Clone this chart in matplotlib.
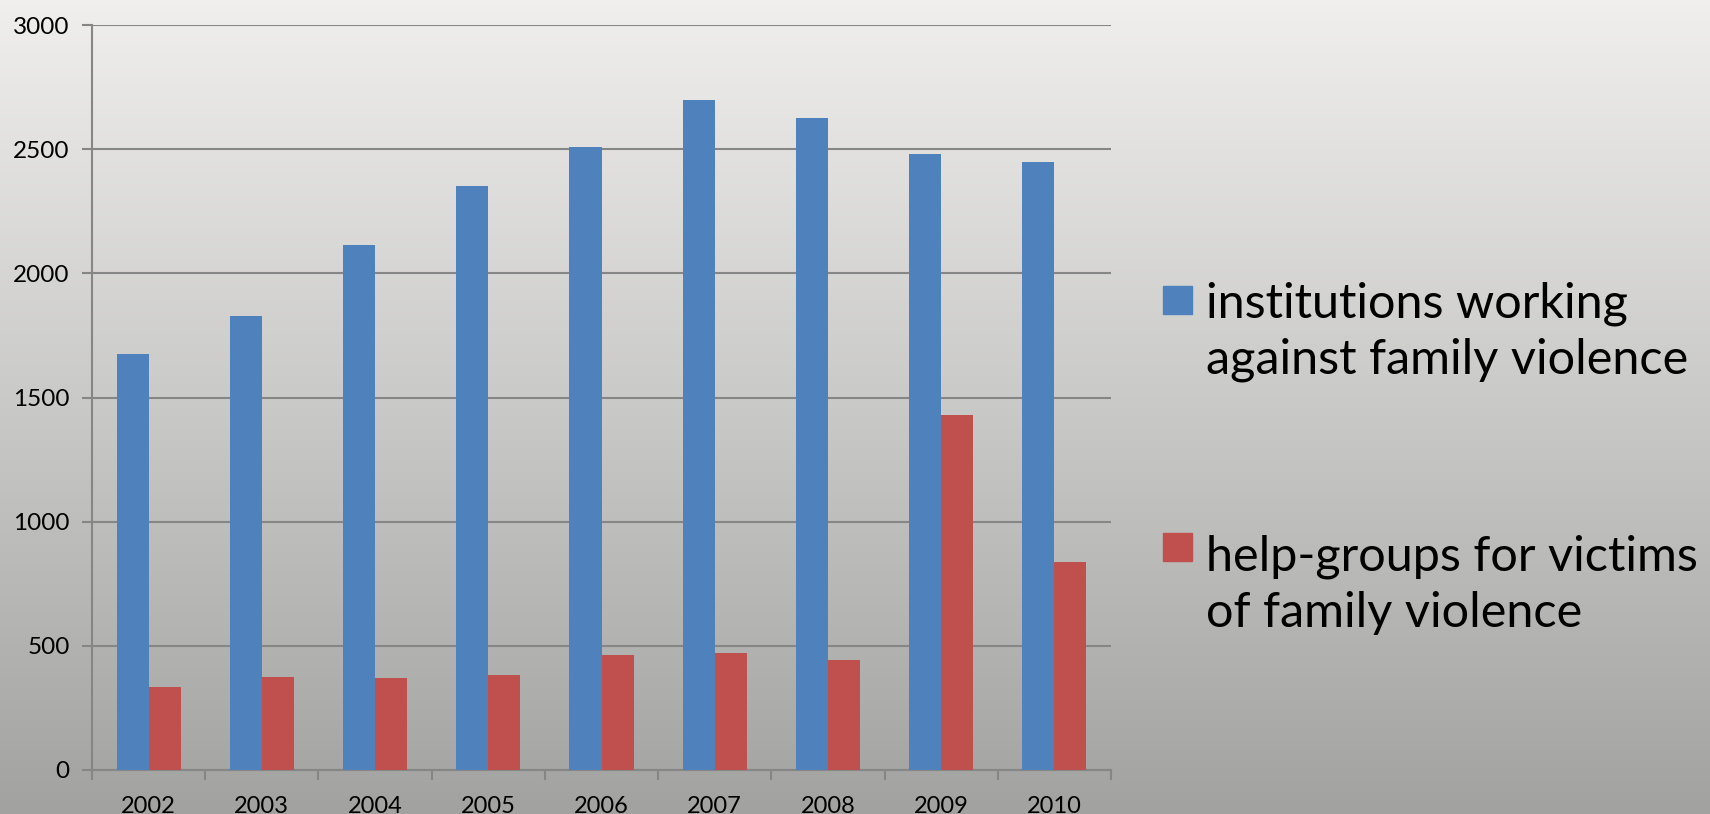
import numpy as np
import matplotlib
matplotlib.use("Agg")
from matplotlib import pyplot as plt
from matplotlib.patches import Rectangle

years = ["2002", "2003", "2004", "2005", "2006", "2007", "2008", "2009", "2010"]
institutions = [1675, 1830, 2115, 2350, 2510, 2700, 2625, 2480, 2450]
help_groups = [334, 374, 370, 383, 462, 471, 444, 1430, 836]
legend_labels = ["institutions working\nagainst family violence",
                 "help-groups for victims\nof family violence"]

blue = "#4f81bd"
red = "#c0504d"
grid_col = "#868686"

plt.rcParams["font.family"] = ["Lato", "DejaVu Sans"]

fig = plt.figure(figsize=(17.1, 8.14), dpi=100)

# gradient background
bg = fig.add_axes([0, 0, 1, 1], zorder=-10)
grad = np.linspace(0, 1, 256).reshape(-1, 1)
top = np.array([240, 239, 238]) / 255
bot = np.array([162, 163, 161]) / 255
img = top[None, None, :] * (1 - grad[:, :, None]) + bot[None, None, :] * grad[:, :, None]
bg.imshow(img, aspect="auto", extent=[0, 1, 0, 1])
bg.axis("off")

ax = fig.add_axes([92 / 1710, 1 - 770 / 814, (1111 - 92) / 1710, (770 - 25) / 814])
ax.patch.set_alpha(0)

x = np.arange(len(years))
w = 0.283
ax.bar(x - w / 2, institutions, w, color=blue, zorder=3)
ax.bar(x + w / 2, help_groups, w, color=red, zorder=3)

ax.set_xlim(-0.5, len(years) - 0.5)
ax.set_ylim(0, 3000)
ax.set_yticks(range(0, 3001, 500))
ax.yaxis.grid(True, color=grid_col, linewidth=1.5, zorder=0)
ax.set_xticks(x)
ax.set_xticklabels(years)
ax.set_xticks(np.arange(-0.5, len(years)), minor=True)
ax.tick_params(axis="x", which="major", length=0, pad=19, labelsize=17)
ax.tick_params(axis="x", which="minor", length=7, width=1.5, color=grid_col)
ax.tick_params(axis="y", length=7, width=1.5, color=grid_col, pad=9, labelsize=17.5)

for s in ["top", "right"]:
    ax.spines[s].set_visible(False)
for s in ["left", "bottom"]:
    ax.spines[s].set_color(grid_col)
    ax.spines[s].set_linewidth(1.5)

# legend drawn on the figure
for i, (lab, col) in enumerate(zip(legend_labels, [blue, red])):
    sq_top = 286 + i * 247
    fig.add_artist(Rectangle((1163 / 1710, 1 - (sq_top + 28) / 814), 29 / 1710, 28 / 814,
                             transform=fig.transFigure, color=col))
    fig.text(1206 / 1710, 1 - (374 + i * 253) / 814, lab, fontsize=35, va="baseline",
             ha="left", linespacing=1.33)

fig.savefig("out.png", dpi=100)
